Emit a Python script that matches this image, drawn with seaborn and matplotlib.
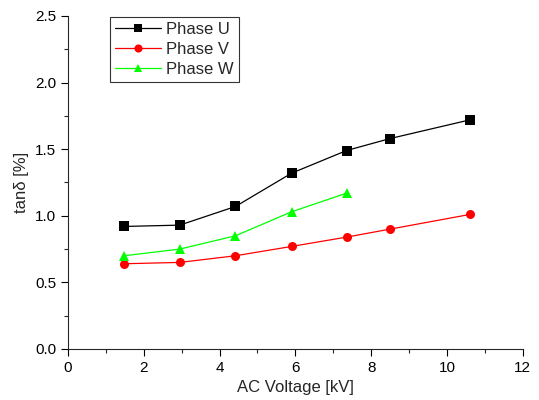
import pandas as pd
import seaborn as sns
import matplotlib.pyplot as plt
from matplotlib.ticker import MultipleLocator

voltage = [1.48, 2.95, 4.42, 5.9, 7.35, 8.5, 10.6]
phase_u = [0.92, 0.93, 1.07, 1.32, 1.49, 1.58, 1.72]
phase_v = [0.64, 0.65, 0.70, 0.77, 0.84, 0.90, 1.01]
phase_w = [0.70, 0.75, 0.85, 1.03, 1.17]

df = pd.concat([
    pd.DataFrame({'kV': voltage, 'tand': phase_u, 'phase': 'Phase U'}),
    pd.DataFrame({'kV': voltage, 'tand': phase_v, 'phase': 'Phase V'}),
    pd.DataFrame({'kV': voltage[:len(phase_w)], 'tand': phase_w, 'phase': 'Phase W'}),
])

sns.set_style('ticks')
plt.rcParams['font.family'] = ['Liberation Sans', 'DejaVu Sans']

fig = plt.figure(figsize=(5.39, 4), dpi=100)
ax = fig.add_axes([0.126, 0.1275, 0.844, 0.8325])

sns.lineplot(data=df, x='kV', y='tand', hue='phase', style='phase',
             palette=['black', 'red', '#00ff00'],
             markers=['s', 'o', '^'], dashes=False, markersize=6.5,
             markeredgewidth=0, linewidth=0.9, ax=ax)

ax.set_xlim(0, 12)
ax.set_ylim(0, 2.5)
ax.xaxis.set_major_locator(MultipleLocator(2))
ax.xaxis.set_minor_locator(MultipleLocator(1))
ax.yaxis.set_major_locator(MultipleLocator(0.5))
ax.yaxis.set_minor_locator(MultipleLocator(0.25))
ax.tick_params(which='major', length=5, width=0.8, labelsize=11, colors='black')
ax.tick_params(which='minor', length=3, width=0.8)
ax.set_xlabel('AC Voltage [kV]', fontsize=12)
ax.set_ylabel('tanδ [%]', fontsize=12)
sns.despine(ax=ax)

leg = ax.legend(loc='upper left', bbox_to_anchor=(0.092, 0.997), borderaxespad=0,
                fontsize=12, frameon=True, fancybox=False, edgecolor='black',
                handlelength=2.8, handletextpad=0.3, borderpad=0.3,
                labelspacing=0.3, markerscale=0.9)
leg.get_frame().set_linewidth(0.8)

fig.savefig('out.png', dpi=100)
